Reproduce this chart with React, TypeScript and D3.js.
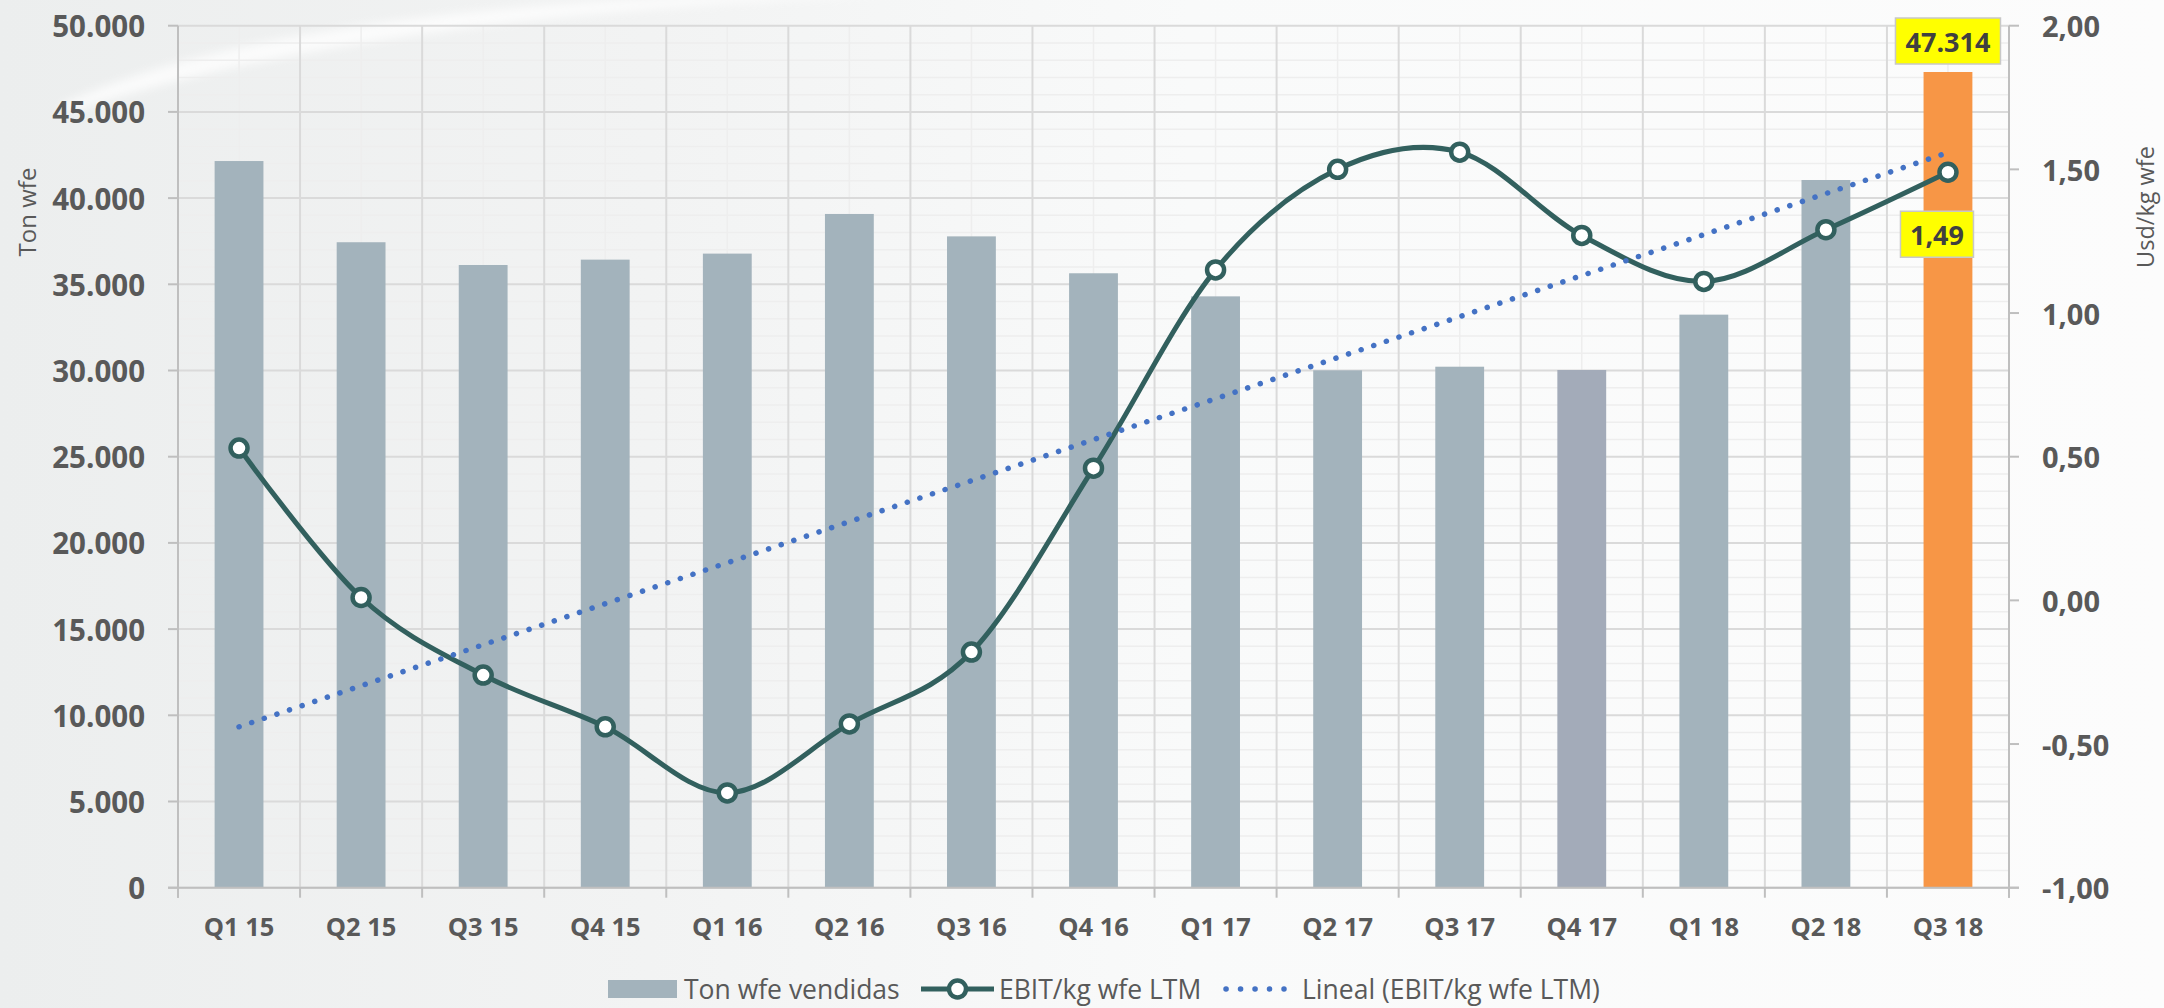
import React from "react";
import * as d3 from "d3";

const categories = ["Q1 15","Q2 15","Q3 15","Q4 15","Q1 16","Q2 16","Q3 16","Q4 16","Q1 17","Q2 17","Q3 17","Q4 17","Q1 18","Q2 18","Q3 18"];
const tonValues = [42150, 37440, 36120, 36430, 36780, 39080, 37780, 35640, 34300, 30010, 30220, 30030, 33240, 41050, 47314];
const ebitValues = [0.53, 0.01, -0.26, -0.44, -0.67, -0.43, -0.18, 0.46, 1.15, 1.50, 1.56, 1.27, 1.11, 1.29, 1.49];
const barColorDefault = "#A3B3BC";
const barColorSpecial: Record<string, string> = { "Q4 17": "#A3ABB9", "Q3 18": "#F79646" };
const leftTicks = d3.range(0, 50001, 5000);
const leftMinorTicks = d3.range(0, 50001, 1000);
const rightTicks = [-1, -0.5, 0, 0.5, 1, 1.5, 2];
const leftTitle = "Ton wfe";
const rightTitle = "Usd/kg wfe";
const legendLabels = ["Ton wfe vendidas", "EBIT/kg wfe LTM", "Lineal (EBIT/kg wfe LTM)"];

const W = 2164, H = 1008;
const plot = { left: 178, right: 2009, top: 25.7, bottom: 887.7 };
const FONT = "'Open Sans', 'DejaVu Sans', sans-serif";
const TEXT = "#595959";
const LINE = "#32605E";

const loc = d3.formatLocale({ decimal: ",", thousands: ".", grouping: [3], currency: ["", ""], minus: "-" });
const fmtLeft = loc.format(",");
const fmtRight = loc.format(".2f");

export default function App() {
  const x = d3.scaleBand<string>().domain(categories).range([plot.left, plot.right]).paddingInner(0.6).paddingOuter(0.3);
  const step = x.step();
  const yL = d3.scaleLinear().domain([0, 50000]).range([plot.bottom, plot.top]);
  const yR = d3.scaleLinear().domain([-1, 2]).range([plot.bottom, plot.top]);
  const cx = (c: string) => (x(c) as number) + x.bandwidth() / 2;

  // linear trend (least squares) of EBIT series
  const n = ebitValues.length;
  const idx = d3.range(n);
  const mx = d3.mean(idx) as number;
  const my = d3.mean(ebitValues) as number;
  const slope = d3.sum(idx, (i) => (i - mx) * (ebitValues[i] - my)) / d3.sum(idx, (i) => (i - mx) ** 2);
  const icpt = my - slope * mx;
  const trendPts: [number, number][] = [0, n - 1].map((i) => [cx(categories[i]), yR(icpt + slope * i)]);

  const linePath = d3.line<number>()
    .x((_, i) => cx(categories[i]))
    .y((v) => yR(v))
    .curve(d3.curveCardinal.tension(0))(ebitValues) as string;

  const boundaries = d3.range(categories.length + 1).map((i) => plot.left + i * step);

  const last = categories.length - 1;
  const lastBarX = cx(categories[last]);
  const lastBarTop = yL(tonValues[last]);
  const lastPtY = yR(ebitValues[last]);
  const legY = 989;

  return (
    <div style={{ position: "fixed", left: 0, top: 0, width: W, height: H }}>
      <svg width={W} height={H} style={{ display: "block" }} fontFamily={FONT}>
        <defs>
          <linearGradient id="bg" x1="0" y1="0" x2="1" y2="0">
            <stop offset="0" stopColor="#ECEEEE" />
            <stop offset="0.3" stopColor="#F2F3F3" />
            <stop offset="0.55" stopColor="#F9FAFA" />
            <stop offset="1" stopColor="#FCFCFC" />
          </linearGradient>
          <filter id="blur" x="-20%" y="-50%" width="140%" height="200%">
            <feGaussianBlur stdDeviation="5" />
          </filter>
        </defs>
        <rect x={0} y={0} width={W} height={H} fill="url(#bg)" />
        <path d="M 60 105 C 200 40, 420 5, 760 -5 L 900 -5 C 520 8, 260 50, 70 112 Z" fill="#FFFFFF" opacity={0.75} filter="url(#blur)" />

        {/* minor horizontal gridlines */}
        {leftMinorTicks.filter((t) => t % 5000 !== 0).map((t) => (
          <line key={"mh" + t} x1={plot.left} x2={plot.right} y1={yL(t)} y2={yL(t)} stroke="#EEEEEE" strokeWidth={1.5} />
        ))}
        {/* minor vertical gridlines at category centers */}
        {categories.map((c, i) => (
          <line key={"mv" + c} x1={plot.left + (i + 0.5) * step} x2={plot.left + (i + 0.5) * step} y1={plot.top} y2={plot.bottom} stroke="#EEEEEE" strokeWidth={1.5} />
        ))}
        {/* major horizontal gridlines */}
        {leftTicks.map((t) => (
          <line key={"h" + t} x1={plot.left} x2={plot.right} y1={yL(t)} y2={yL(t)} stroke="#DADADA" strokeWidth={2} />
        ))}
        {/* major vertical gridlines */}
        {boundaries.map((b, i) => (
          <line key={"v" + i} x1={b} x2={b} y1={plot.top} y2={plot.bottom} stroke="#DADADA" strokeWidth={2} />
        ))}

        {/* bars */}
        {categories.map((c, i) => (
          <rect key={"b" + c} x={x(c)} y={yL(tonValues[i])} width={x.bandwidth()} height={yL(0) - yL(tonValues[i])} fill={barColorSpecial[c] || barColorDefault} />
        ))}

        {/* axes */}
        <line x1={plot.left - 10} x2={plot.right + 10} y1={plot.bottom} y2={plot.bottom} stroke="#BFBFBF" strokeWidth={2} />
        <line x1={plot.left} x2={plot.left} y1={plot.top} y2={plot.bottom + 10} stroke="#BFBFBF" strokeWidth={2} />
        <line x1={plot.right} x2={plot.right} y1={plot.top} y2={plot.bottom + 10} stroke="#BFBFBF" strokeWidth={2} />
        {leftTicks.map((t) => (
          <line key={"lt" + t} x1={plot.left - 10} x2={plot.left} y1={yL(t)} y2={yL(t)} stroke="#BFBFBF" strokeWidth={2} />
        ))}
        {rightTicks.map((t) => (
          <line key={"rt" + t} x1={plot.right} x2={plot.right + 10} y1={yR(t)} y2={yR(t)} stroke="#BFBFBF" strokeWidth={2} />
        ))}
        {boundaries.map((b, i) => (
          <line key={"bt" + i} x1={b} x2={b} y1={plot.bottom} y2={plot.bottom + 10} stroke="#BFBFBF" strokeWidth={2} />
        ))}

        {/* tick labels */}
        {leftTicks.map((t) => (
          <text key={"ll" + t} x={145} y={yL(t)} textAnchor="end" dominantBaseline="central" fontSize={29.5} fontWeight="bold" fill={TEXT}>{fmtLeft(t)}</text>
        ))}
        {rightTicks.map((t) => (
          <text key={"rl" + t} x={2042} y={yR(t)} textAnchor="start" dominantBaseline="central" fontSize={29} fontWeight="bold" fill={TEXT}>{fmtRight(t)}</text>
        ))}
        {categories.map((c) => (
          <text key={"cl" + c} x={cx(c)} y={926} textAnchor="middle" dominantBaseline="central" fontSize={25.5} fontWeight="bold" fill={TEXT}>{c}</text>
        ))}

        {/* axis titles */}
        <text transform={`translate(26,${212}) rotate(-90)`} textAnchor="middle" dominantBaseline="central" fontSize={24} fill={TEXT}>{leftTitle}</text>
        <text transform={`translate(2145,${207}) rotate(-90)`} textAnchor="middle" dominantBaseline="central" fontSize={23.5} fill={TEXT}>{rightTitle}</text>

        {/* EBIT line */}
        <path d={linePath} fill="none" stroke={LINE} strokeWidth={5} />
        {/* trend line */}
        <line x1={trendPts[0][0]} y1={trendPts[0][1]} x2={trendPts[1][0]} y2={trendPts[1][1]} stroke="#4472C4" strokeWidth={5.5} strokeLinecap="round" strokeDasharray="0.1 13.2" />
        {ebitValues.map((v, i) => (
          <circle key={"m" + i} cx={cx(categories[i])} cy={yR(v)} r={8.5} fill="#FFFFFF" stroke={LINE} strokeWidth={4.5} />
        ))}

        {/* data labels */}
        <g>
          <rect x={lastBarX - 52.5} y={lastBarTop - 8 - 46} width={105} height={46} fill="#FFFF00" stroke="#C8C8C8" strokeWidth={1.5} />
          <text x={lastBarX} y={lastBarTop - 8 - 23} textAnchor="middle" dominantBaseline="central" fontSize={27} fontWeight="bold" fill="#404040">{fmtLeft(tonValues[last])}</text>
        </g>
        <g>
          <rect x={lastBarX - 11 - 36.5} y={lastPtY + 39} width={73} height={46} fill="#FFFF00" stroke="#C8C8C8" strokeWidth={1.5} />
          <text x={lastBarX - 11} y={lastPtY + 39 + 23} textAnchor="middle" dominantBaseline="central" fontSize={27} fontWeight="bold" fill="#404040">{fmtRight(ebitValues[last])}</text>
        </g>

        {/* legend */}
        <g>
          <rect x={608} y={legY - 9} width={69} height={18} fill={barColorDefault} />
          <text x={684} y={legY} dominantBaseline="central" fontSize={26.5} fill={TEXT}>{legendLabels[0]}</text>
          <line x1={921} x2={994} y1={legY} y2={legY} stroke={LINE} strokeWidth={5} />
          <circle cx={957.5} cy={legY} r={8.5} fill="#FFFFFF" stroke={LINE} strokeWidth={4.5} />
          <text x={999} y={legY} dominantBaseline="central" fontSize={26.5} fill={TEXT}>{legendLabels[1]}</text>
          <line x1={1226} x2={1284} y1={legY} y2={legY} stroke="#4472C4" strokeWidth={5.5} strokeLinecap="round" strokeDasharray="0.1 14.4" />
          <text x={1302} y={legY} dominantBaseline="central" fontSize={26.5} fill={TEXT}>{legendLabels[2]}</text>
        </g>
      </svg>
    </div>
  );
}
